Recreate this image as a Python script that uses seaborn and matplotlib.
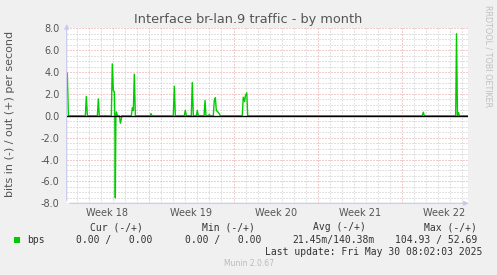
import numpy as np
import pandas as pd
import matplotlib
matplotlib.use("Agg")
import matplotlib.pyplot as plt
from matplotlib.patches import Rectangle
import seaborn as sns

# ---- data (time in days from start of visible window, value in bps) ----
days = [0.13, 0.18, 0.27, 1.68, 1.76, 1.85, 2.68, 2.76, 2.84,
        3.84, 3.92, 4.01, 4.09, 4.13, 4.17, 4.22, 4.27, 4.34, 4.51, 4.59, 4.67, 4.71,
        5.50, 5.59, 5.67, 5.75, 5.84, 7.06, 7.14, 7.22,
        8.99, 9.08, 9.16, 9.91, 9.99, 10.08, 10.49, 10.57, 10.66,
        10.91, 10.99, 11.07, 11.55, 11.63, 11.71, 11.91, 11.99, 12.07,
        12.32, 12.40, 12.49, 12.57, 12.65, 12.74, 12.82, 12.90,
        14.73, 14.76, 14.81, 14.93, 14.98, 15.10, 15.18,
        29.69, 29.78, 29.86,
        32.47, 32.54, 32.62, 32.70, 32.79, 33.52]
values = [3.9, 3.9, 0.0, 0.0, 1.77, 0.0, 0.0, 1.55, 0.0,
          0.0, 4.75, 2.3, 2.2, 0.0, -7.5, 0.0, 0.35, 0.0, 0.0, -0.67, -0.3, 0.0,
          0.0, 0.73, 0.5, 3.8, 0.0, 0.0, 0.2, 0.0,
          0.0, 2.7, 0.0, 0.0, 0.5, 0.0, 0.0, 3.05, 0.0,
          0.0, 0.5, 0.0, 0.0, 1.4, 0.0, 0.0, 0.12, 0.0,
          0.0, 1.4, 1.65, 0.5, 0.4, 0.3, 0.2, 0.0,
          0.0, 0.73, 1.7, 1.3, 1.8, 2.1, 0.0,
          0.0, 0.33, 0.0,
          0.0, 7.5, 0.0, 0.3, 0.0, 0.0]

week_labels = ["Week 18", "Week 19", "Week 20", "Week 21", "Week 22"]
week_centers = [3.5, 10.5, 17.5, 24.5, 31.5]
week_bounds = [7, 14, 21, 28]
y_ticks = [8, 6, 4, 2, 0, -2, -4, -6, -8]
y_tick_labels = ["8.0", "6.0", "4.0", "2.0", "0.0", "-2.0", "-4.0", "-6.0", "-8.0"]

title = "Interface br-lan.9 traffic - by month"
ylabel = "bits in (-) / out (+) per second"
legend_name = "bps"
legend_headers = ["Cur (-/+)", "Min (-/+)", "Avg (-/+)", "Max (-/+)"]
legend_values = ["0.00 /   0.00", "0.00 /   0.00", "21.45m/140.38m", "104.93 / 52.69"]
last_update = "Last update: Fri May 30 08:02:03 2025"
footer = "Munin 2.0.67"
side_text = "RRDTOOL / TOBI OETIKER"

df = pd.DataFrame({"day": days, "bps": values})

# ---- figure ----
sns.set_theme(style="white")
plt.rcParams["font.family"] = ["DejaVu Sans"]
W, H = 497, 275
fig = plt.figure(figsize=(W / 100, H / 100), dpi=100, facecolor="#f0f0f0")

def fx(x):
    return x / W

def fy(y):
    return 1 - y / H

L, R, T, B = 66.7, 468.3, 28.3, 203.3
ax = fig.add_axes([fx(L), fy(B), fx(R) - fx(L), fy(T) - fy(B)])
ax.set_facecolor("white")
for s in ax.spines.values():
    s.set_visible(False)

xmin, xmax = 0.13, 33.52
ax.set_xlim(xmin, xmax)
ax.set_ylim(-8, 8)

# grid
minor_col = "#c4c4c4"
major_col = "#e49a9a"
dot = (0, (1, 2))
ax.set_yticks(y_ticks)
ax.set_yticklabels(y_tick_labels)
ax.set_yticks(np.arange(-8, 8.01, 0.5), minor=True)
ax.set_xticks(week_bounds)
ax.set_xticklabels([""] * len(week_bounds))
ax.set_xticks(np.arange(1, 34, 1), minor=True)
ax.grid(which="minor", color=minor_col, linestyle=dot, linewidth=0.72)
ax.grid(which="major", color=major_col, linestyle=dot, linewidth=0.72)
ax.set_axisbelow(True)
ax.tick_params(axis="y", which="major", length=3, width=0.7, color="#e49a9a",
               direction="inout", labelsize=7, labelcolor="#555555", pad=3.5)
ax.tick_params(axis="y", which="minor", length=3, width=0.7, color="#c4c4c4",
               direction="inout")
ax.tick_params(axis="x", which="major", length=5, width=0.7, color="#e49a9a",
               direction="inout", pad=1)
ax.tick_params(axis="x", which="minor", length=3, width=0.7, color="#c4c4c4",
               direction="inout")

# data
sns.lineplot(data=df, x="day", y="bps", ax=ax, color="#00cc00", linewidth=1.0,
             estimator=None, sort=False, legend=False)
ax.axhline(0, color="black", linewidth=1.0, zorder=5)
ax.set_xlabel("")
ax.set_ylabel("")

# axis arrows
axis_col = "#c8c8f0"
ax.annotate("", xy=(0, 1.04), xytext=(0, 0), xycoords="axes fraction",
            arrowprops=dict(arrowstyle="-|>", color=axis_col, lw=0.8, mutation_scale=7),
            annotation_clip=False)
ax.annotate("", xy=(1.008, 0), xytext=(0, 0), xycoords="axes fraction",
            arrowprops=dict(arrowstyle="-|>", color=axis_col, lw=0.8, mutation_scale=7),
            annotation_clip=False)

# week labels
trans = matplotlib.transforms.blended_transform_factory(ax.transData, fig.transFigure)
for c, lab in zip(week_centers, week_labels):
    ax.text(c, fy(213), lab, transform=trans, ha="center", va="center",
            fontsize=7, color="#555555")

# title & labels
fig.text(0.5, fy(19), title, ha="center", va="center", fontsize=9.3, color="#555555")
fig.text(fx(10), fy(114), ylabel, rotation=90, ha="center", va="center",
         fontsize=8, color="#555555")
fig.text(fx(488), fy(5), side_text, rotation=270, ha="center", va="top",
         fontsize=5.8, color="#c0c0c0")

# legend
mono = "DejaVu Sans Mono"
lc = "#333333"
fig.patches.append(Rectangle((fx(14), fy(243)), fx(6), 6 / H, transform=fig.transFigure,
                             facecolor="#00cc00", edgecolor="none"))
fig.text(fx(27), fy(240), legend_name, ha="left", va="center", fontsize=7,
         family=mono, color=lc)
header_right = [142.5, 254.5, 365.5, 477]
value_right = [152, 261, 375, 477]
for hr, h in zip(header_right, legend_headers):
    fig.text(fx(hr), fy(227), h, ha="right", va="center", fontsize=7, family=mono, color=lc)
for vr, v in zip(value_right, legend_values):
    fig.text(fx(vr), fy(240), v, ha="right", va="center", fontsize=7, family=mono, color=lc)
fig.text(fx(482), fy(252), last_update, ha="right", va="center", fontsize=7,
         family=mono, color=lc)
fig.text(0.5, fy(263.5), footer, ha="center", va="center", fontsize=5.5, color="#bbbbbb")

fig.savefig("out.png", dpi=100, facecolor=fig.get_facecolor())
